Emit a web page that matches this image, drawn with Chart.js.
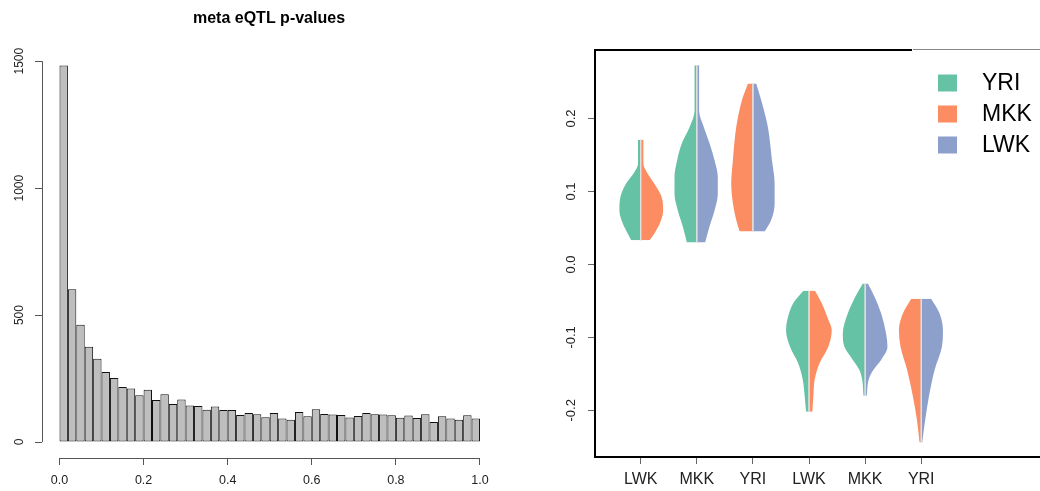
<!DOCTYPE html>
<html lang="en">
<head>
<meta charset="UTF-8">
<title>meta eQTL</title>
<script src="https://cdn.jsdelivr.net/npm/chart.js"></script>
<style>
    body { margin: 0; background: #fff; width: 1040px; height: 491px; overflow: hidden; position: relative; }
    #histChart { position: absolute; left: 0; top: 0; }
    #violinChart { position: absolute; left: 540px; top: 0; }
</style>
</head>
<body>
<canvas id="histChart" width="538" height="491"></canvas>
<canvas id="violinChart" width="500" height="491"></canvas>
<script>
// p-value histogram, 50 bins of width 0.02
const binWidth = 0.02;
const pCounts = [1483, 602, 462, 375, 328, 276, 252, 217, 211, 184,
                 206, 165, 188, 150, 167, 144, 142, 127, 140, 126,
                 126, 106, 114, 109, 98, 114, 93, 88, 118, 101,
                 129, 110, 108, 106, 97, 102, 114, 109, 108, 105,
                 96, 104, 95, 109, 79, 101, 93, 88, 105, 93];
const histXTicks = [0, 0.2, 0.4, 0.6, 0.8, 1.0];
const histXLabels = ['0.0', '0.2', '0.4', '0.6', '0.8', '1.0'];
const histYTicks = [0, 500, 1000, 1500];
const histYLabels = ['0', '500', '1000', '1500'];

// split violins: one group per column, two populations per violin
const groupLabels = ['LWK', 'MKK', 'YRI', 'LWK', 'MKK', 'YRI'];
const popNames = ['YRI', 'MKK', 'LWK'];
const popColors = { YRI: '#66C2A5', MKK: '#FC8D62', LWK: '#8DA0CB' };
const violinYTicks = [-0.2, -0.1, 0, 0.1, 0.2];
const violinYLabels = ['-0.2', '-0.1', '0.0', '0.1', '0.2'];

// density half-widths (x units) at each effect level
const v1Levels = [0.171, 0.138, 0.125, 0.111, 0.093, 0.074, 0.056, 0.042, 0.033];
const v1YRI = [0.048, 0.048, 0.125, 0.26, 0.36, 0.38, 0.32, 0.23, 0.17];
const v1MKK = [0.048, 0.048, 0.12, 0.24, 0.37, 0.40, 0.34, 0.24, 0.16];

const v2Levels = [0.273, 0.211, 0.188, 0.166, 0.143, 0.12, 0.097, 0.074, 0.052, 0.030];
const v2YRI = [0.041, 0.041, 0.13, 0.267, 0.351, 0.398, 0.398, 0.339, 0.25, 0.178];
const v2LWK = [0.041, 0.041, 0.125, 0.226, 0.316, 0.374, 0.374, 0.316, 0.226, 0.148];

const v3Levels = [0.248, 0.225, 0.188, 0.143, 0.111, 0.084, 0.061, 0.045];
const v3MKK = [0.089, 0.196, 0.298, 0.357, 0.387, 0.357, 0.298, 0.237];
const v3LWK = [0.059, 0.148, 0.267, 0.339, 0.387, 0.387, 0.326, 0.209];

const v4Levels = [-0.036, -0.053, -0.076, -0.090, -0.113, -0.136, -0.158, -0.181, -0.202];
const v4YRI = [0.10, 0.28, 0.387, 0.41, 0.339, 0.19, 0.112, 0.077, 0.053];
const v4MKK = [0.107, 0.226, 0.344, 0.405, 0.344, 0.184, 0.10, 0.077, 0.059];

const v5Levels = [-0.026, -0.044, -0.067, -0.095, -0.113, -0.131, -0.145, -0.158, -0.180];
const v5YRI = [0.041, 0.173, 0.308, 0.398, 0.369, 0.219, 0.10, 0.053, 0.03];
const v5LWK = [0.048, 0.166, 0.285, 0.374, 0.398, 0.285, 0.143, 0.062, 0.03];

const v6Levels = [-0.047, -0.067, -0.090, -0.113, -0.145, -0.181, -0.213, -0.244];
const v6MKK = [0.178, 0.326, 0.398, 0.369, 0.25, 0.148, 0.077, 0.03];
const v6LWK = [0.178, 0.326, 0.387, 0.369, 0.237, 0.137, 0.071, 0.018];

const violins = [
    { left: 'YRI', right: 'MKK', levels: v1Levels, leftW: v1YRI, rightW: v1MKK },
    { left: 'YRI', right: 'LWK', levels: v2Levels, leftW: v2YRI, rightW: v2LWK },
    { left: 'MKK', right: 'LWK', levels: v3Levels, leftW: v3MKK, rightW: v3LWK },
    { left: 'YRI', right: 'MKK', levels: v4Levels, leftW: v4YRI, rightW: v4MKK },
    { left: 'YRI', right: 'LWK', levels: v5Levels, leftW: v5YRI, rightW: v5LWK },
    { left: 'MKK', right: 'LWK', levels: v6Levels, leftW: v6MKK, rightW: v6LWK }
];

Chart.defaults.font.family = "'Liberation Sans', Arial, Helvetica, sans-serif";
Chart.defaults.color = '#222';
Chart.defaults.animation = false;

// R style axes: the line only runs between the first and last tick
const rAxes = {
    id: 'rAxes',
    afterDraw(chart) {
        const c = chart.ctx;
        const xs = chart.scales.x, ys = chart.scales.y;
        const a = chart.chartArea;
        c.save();
        c.strokeStyle = '#555';
        c.lineWidth = 1;
        c.beginPath();
        c.moveTo(a.left + 0.5, ys.getPixelForValue(histYTicks[0]));
        c.lineTo(a.left + 0.5, ys.getPixelForValue(histYTicks[histYTicks.length - 1]));
        c.moveTo(xs.getPixelForValue(histXTicks[0]), a.bottom + 0.5);
        c.lineTo(xs.getPixelForValue(histXTicks[histXTicks.length - 1]), a.bottom + 0.5);
        c.stroke();
        c.restore();
    }
};

const hist = new Chart(document.getElementById('histChart'), {
    type: 'bar',
    data: {
        datasets: [{
            data: pCounts.map((n, i) => ({ x: (i + 0.5) * binWidth, y: n })),
            backgroundColor: '#BEBEBE',
            borderColor: '#111',
            borderSkipped: false,
            inflateAmount: 0,
            borderWidth: 1,
            barPercentage: 1,
            categoryPercentage: 1
        }]
    },
    options: {
        responsive: false,
        events: [],
        layout: { padding: 0 },
        plugins: {
            legend: { display: false },
            tooltip: { enabled: false },
            title: {
                display: true,
                text: 'meta eQTL p-values',
                color: '#000',
                font: { size: 16, weight: 'bold' },
                padding: { top: 9, bottom: 33 }
            }
        },
        scales: {
            x: {
                type: 'linear',
                offset: false,
                min: -0.0416,
                max: 1.138,
                afterBuildTicks: (s) => { s.ticks = histXTicks.map(v => ({ value: v })); },
                afterFit: (s) => { s.height = 33; },
                ticks: {
                    autoSkip: false,
                    maxRotation: 0,
                    padding: 8,
                    font: { size: 12.5 },
                    callback: (v, i) => histXLabels[i]
                },
                grid: { offset: false, drawOnChartArea: false, tickLength: 7, color: '#555' },
                border: { display: false }
            },
            y: {
                min: -63,
                max: 1500,
                afterBuildTicks: (s) => { s.ticks = histYTicks.map(v => ({ value: v })); },
                afterFit: (s) => { s.width = 42; },
                ticks: {
                    autoSkip: false,
                    minRotation: 90,
                    maxRotation: 90,
                    crossAlign: 'center',
                    padding: 2,
                    font: { size: 12 },
                    callback: (v, i) => histYLabels[i]
                },
                grid: { drawOnChartArea: false, tickLength: 7, color: '#555' },
                border: { display: false }
            }
        }
    },
    plugins: [rAxes]
});

// top edge of the box and the population key
const violinExtras = {
    id: 'violinExtras',
    afterDraw(chart) {
        const c = chart.ctx;
        const a = chart.chartArea;
        c.save();
        c.fillStyle = '#000';
        c.fillRect(a.left - 1, a.top - 1, 373 - a.left, 2);
        c.fillStyle = '#888';
        c.fillRect(373, a.top - 1, a.right - 373, 1);
        c.font = "23px 'Liberation Sans', Arial, sans-serif";
        c.textBaseline = 'middle';
        popNames.forEach((name, i) => {
            const y = a.top + 33 + i * 31;
            c.fillStyle = popColors[name];
            c.fillRect(398, y - 8.5, 19, 17);
            c.fillStyle = '#000';
            c.fillText(name, 442, y + 1);
        });
        c.restore();
    }
};

const halfStyle = {
    pointRadius: 0,
    borderWidth: 0,
    borderColor: 'rgba(0,0,0,0)',
    cubicInterpolationMode: 'monotone'
};

const violinSets = [];
violins.forEach((v, k) => {
    const pos = k + 1;
    violinSets.push(Object.assign({
        data: v.levels.map((y, i) => ({ x: pos - v.leftW[i], y: y })),
        backgroundColor: popColors[v.left],
        fill: { value: pos }
    }, halfStyle));
    violinSets.push(Object.assign({
        data: v.levels.map((y, i) => ({ x: pos + v.rightW[i], y: y })),
        backgroundColor: popColors[v.right],
        fill: { value: pos }
    }, halfStyle));
    // pale seam between the two halves, kept on top
    violinSets.push({
        data: [{ x: pos, y: v.levels[0] }, { x: pos, y: v.levels[v.levels.length - 1] }],
        borderColor: 'rgba(225,225,225,0.85)',
        borderWidth: 1,
        pointRadius: 0,
        fill: false,
        order: -1
    });
});

const violin = new Chart(document.getElementById('violinChart'), {
    type: 'line',
    data: { datasets: violinSets },
    options: {
        responsive: false,
        events: [],
        indexAxis: 'y',
        layout: { padding: { top: 50, left: 0, right: 0, bottom: 0 } },
        plugins: {
            legend: { display: false },
            tooltip: { enabled: false }
        },
        scales: {
            x: {
                type: 'linear',
                min: 0.185,
                max: 8.117,
                afterBuildTicks: (s) => { s.ticks = groupLabels.map((g, i) => ({ value: i + 1 })); },
                afterFit: (s) => { s.height = 34; },
                ticks: {
                    autoSkip: false,
                    maxRotation: 0,
                    padding: 6,
                    font: { size: 16 },
                    callback: (v, i) => groupLabels[i]
                },
                grid: { drawOnChartArea: false, tickLength: 7, color: '#666' },
                border: { display: true, color: '#000', width: 2 }
            },
            y: {
                type: 'linear',
                min: -0.264,
                max: 0.294,
                afterBuildTicks: (s) => { s.ticks = violinYTicks.map(v => ({ value: v })); },
                afterFit: (s) => { s.width = 55; },
                ticks: {
                    autoSkip: false,
                    minRotation: 90,
                    maxRotation: 90,
                    crossAlign: 'center',
                    padding: 5,
                    font: { size: 13 },
                    callback: (v, i) => violinYLabels[i]
                },
                grid: { drawOnChartArea: false, tickLength: 7, color: '#666' },
                border: { display: true, color: '#000', width: 2 }
            }
        }
    },
    plugins: [violinExtras]
});
</script>
</body>
</html>
